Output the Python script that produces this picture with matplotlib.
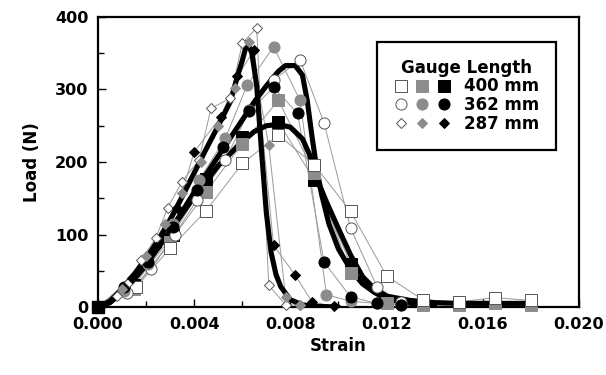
import matplotlib
matplotlib.use("Agg")
import matplotlib.pyplot as plt
from matplotlib.legend_handler import HandlerTuple
from matplotlib.lines import Line2D

# --- datos ---
# 400 mm
sq_open_x = [0, 0.0016, 0.0030, 0.0045, 0.0060, 0.0075, 0.0090, 0.0105, 0.0120, 0.0135, 0.0150, 0.0165, 0.0180]
sq_open_y = [0, 28, 81, 133, 198, 237, 196, 132, 43, 10, 7, 13, 9]
sq_gray_x = [0, 0.0015, 0.0030, 0.0045, 0.0060, 0.0075, 0.0090, 0.0105, 0.0120, 0.0135, 0.0150, 0.0165, 0.0180]
sq_gray_y = [0, 25, 90, 159, 225, 285, 185, 47, 5, 3, 3, 5, 3]
sq_black_x = [0, 0.0015, 0.0031, 0.0045, 0.0060, 0.0075, 0.0090, 0.0105, 0.0120, 0.0135, 0.0150, 0.0165, 0.0180]
sq_black_y = [0, 30, 99, 176, 235, 255, 175, 60, 8, 4, 4, 7, 4]

# 362 mm
ci_open_x = [0, 0.0012, 0.0022, 0.0032, 0.0041, 0.0053, 0.0063, 0.0073, 0.0084, 0.0094, 0.0105, 0.0116, 0.0126]
ci_open_y = [0, 19, 52, 100, 147, 203, 272, 313, 341, 254, 109, 28, 7]
ci_gray_x = [0, 0.0011, 0.0021, 0.0031, 0.0042, 0.0053, 0.0062, 0.0073, 0.0084, 0.0095, 0.0105, 0.0116, 0.0126]
ci_gray_y = [0, 22, 60, 115, 175, 233, 306, 359, 285, 17, 8, 5, 3]
ci_black_x = [0, 0.0011, 0.0021, 0.0031, 0.0041, 0.0052, 0.0063, 0.0073, 0.0083, 0.0094, 0.0105, 0.0116, 0.0126]
ci_black_y = [0, 28, 62, 110, 161, 221, 270, 303, 267, 62, 14, 5, 3]

# 287 mm
di_open_x = [0, 0.0008, 0.0013, 0.0018, 0.0024, 0.0029, 0.0035, 0.0042, 0.0047, 0.0055, 0.0060, 0.0066, 0.0071, 0.0078, 0.0084]
di_open_y = [0, 15, 35, 65, 95, 137, 173, 203, 274, 288, 364, 385, 30, 3, 3]
di_gray_x = [0, 0.0010, 0.0020, 0.0028, 0.0035, 0.0043, 0.0050, 0.0057, 0.0063, 0.0071, 0.0078, 0.0084]
di_gray_y = [0, 25, 70, 115, 157, 200, 250, 302, 366, 223, 14, 3]
di_black_x = [0, 0.0014, 0.0024, 0.0033, 0.0040, 0.0051, 0.0058, 0.0065, 0.0073, 0.0082, 0.0089, 0.0098]
di_black_y = [0, 40, 83, 136, 214, 262, 318, 355, 85, 44, 7, 1]

# curvas de ajuste (trazo grueso)
fit287_x = [0, 0.0005, 0.001, 0.0015, 0.002, 0.0025, 0.003, 0.0035, 0.004, 0.0045, 0.005, 0.0055, 0.0058,
            0.006, 0.0062, 0.0064, 0.0066, 0.0068, 0.0070, 0.0072, 0.0074, 0.0076, 0.008, 0.0085, 0.009, 0.010]
fit287_y = [0, 8, 25, 45, 67, 92, 120, 152, 185, 218, 250, 283, 318,
            340, 365, 350, 305, 215, 130, 75, 45, 28, 10, 3, 1, 0]
fit362_x = [0, 0.0005, 0.001, 0.0015, 0.002, 0.003, 0.004, 0.005, 0.006, 0.0065, 0.007, 0.0075, 0.0078,
            0.0082, 0.0085, 0.0087, 0.0089, 0.0091, 0.0093, 0.0096, 0.010, 0.0105, 0.011, 0.0115, 0.012, 0.013, 0.014]
fit362_y = [0, 6, 20, 38, 58, 105, 158, 208, 258, 283, 305, 325, 333,
            333, 320, 285, 235, 190, 155, 115, 80, 52, 32, 20, 11, 5, 3]
fit400_x = [0, 0.0005, 0.001, 0.0015, 0.002, 0.003, 0.004, 0.005, 0.006, 0.0065, 0.007, 0.0075, 0.008,
            0.0085, 0.0088, 0.009, 0.0095, 0.010, 0.0105, 0.011, 0.0115, 0.012, 0.013, 0.014, 0.015, 0.016, 0.017, 0.018]
fit400_y = [0, 7, 22, 42, 62, 105, 152, 195, 228, 242, 250, 252, 248,
            232, 210, 185, 145, 108, 72, 42, 25, 15, 9, 6, 5, 5, 5, 5]

x_ticks = [0.000, 0.004, 0.008, 0.012, 0.016, 0.020]
y_ticks = [0, 100, 200, 300, 400]

GRIS = "#8c8c8c"
LINEA = "#9a9a9a"

fig = plt.figure(figsize=(6.06, 3.75), dpi=100)
ax = fig.add_axes([0.1617, 0.1813, 0.7937, 0.7734])

# orden de dibujo: en los cuadrados los huecos van encima
series = [
    (sq_black_x, sq_black_y, "s", "black", 8.0),
    (sq_gray_x, sq_gray_y, "s", GRIS, 8.0),
    (sq_open_x, sq_open_y, "s", "white", 8.0),
    (ci_open_x, ci_open_y, "o", "white", 8.0),
    (ci_gray_x, ci_gray_y, "o", GRIS, 8.0),
    (ci_black_x, ci_black_y, "o", "black", 8.0),
    (di_open_x, di_open_y, "D", "white", 5.5),
    (di_gray_x, di_gray_y, "D", GRIS, 5.5),
    (di_black_x, di_black_y, "D", "black", 5.5),
]
for x, y, m, fc, ms in series:
    ax.plot(x, y, color=LINEA, lw=0.7, zorder=1)

for fx, fy in [(fit400_x, fit400_y), (fit362_x, fit362_y), (fit287_x, fit287_y)]:
    ax.plot(fx, fy, color="black", lw=3.7, zorder=2, solid_capstyle="round",
            solid_joinstyle="round")

for x, y, m, fc, ms in series:
    ec = "#555555" if fc == "white" else fc
    ax.plot(x, y, ls="none", marker=m, ms=ms, mfc=fc, mec=ec, mew=0.7, zorder=3,
            clip_on=False)

# en el origen se ve el cuadrado negro por encima
ax.plot(sq_black_x[:1], sq_black_y[:1], ls="none", marker="s", ms=8.5, mfc="black",
        mec="black", zorder=4, clip_on=False)

ax.set_xlim(0, 0.020)
ax.set_ylim(0, 400)
ax.set_xticks(x_ticks)
ax.set_xticklabels([f"{v:.3f}" for v in x_ticks])
ax.set_yticks(y_ticks)
ax.set_xticks([0.002, 0.006, 0.010, 0.014, 0.018], minor=True)
ax.set_yticks([50, 150, 250, 350], minor=True)
ax.tick_params(which="both", direction="in", width=1.0)
ax.tick_params(which="major", length=6, labelsize=11.5, pad=7)
ax.tick_params(which="minor", length=4)
for lab in ax.get_xticklabels() + ax.get_yticklabels():
    lab.set_fontweight("bold")
for s in ax.spines.values():
    s.set_linewidth(1.6)

ax.set_xlabel("Strain", fontsize=12, fontweight="bold", labelpad=4)
ax.set_ylabel("Load (N)", fontsize=12, fontweight="bold", labelpad=10)

# leyenda con tres símbolos por fila
def mk(m, fc, ms):
    ec = "#555555" if fc == "white" else fc
    return Line2D([], [], ls="none", marker=m, ms=ms, mfc=fc, mec=ec, mew=0.7)

handles = [
    (mk("s", "white", 8), mk("s", GRIS, 8), mk("s", "black", 8)),
    (mk("o", "white", 8), mk("o", GRIS, 8), mk("o", "black", 8)),
    (mk("D", "white", 5.5), mk("D", GRIS, 5.5), mk("D", "black", 5.5)),
]
labels = ["400 mm", "362 mm", "287 mm"]
leg = ax.legend(handles, labels, handler_map={tuple: HandlerTuple(ndivide=None, pad=0.5)},
                title="Gauge Length", loc="upper right", bbox_to_anchor=(0.952, 0.914),
                borderaxespad=0, fancybox=False, framealpha=1, edgecolor="black",
                prop={"weight": "bold", "size": 12}, handlelength=3.4, handletextpad=0.8,
                labelspacing=0.05, borderpad=1.0)
leg.get_title().set_fontweight("bold")
leg.get_title().set_fontsize(12)
leg.get_frame().set_linewidth(1.6)
leg.set_zorder(5)

fig.savefig("out.png", dpi=100)
